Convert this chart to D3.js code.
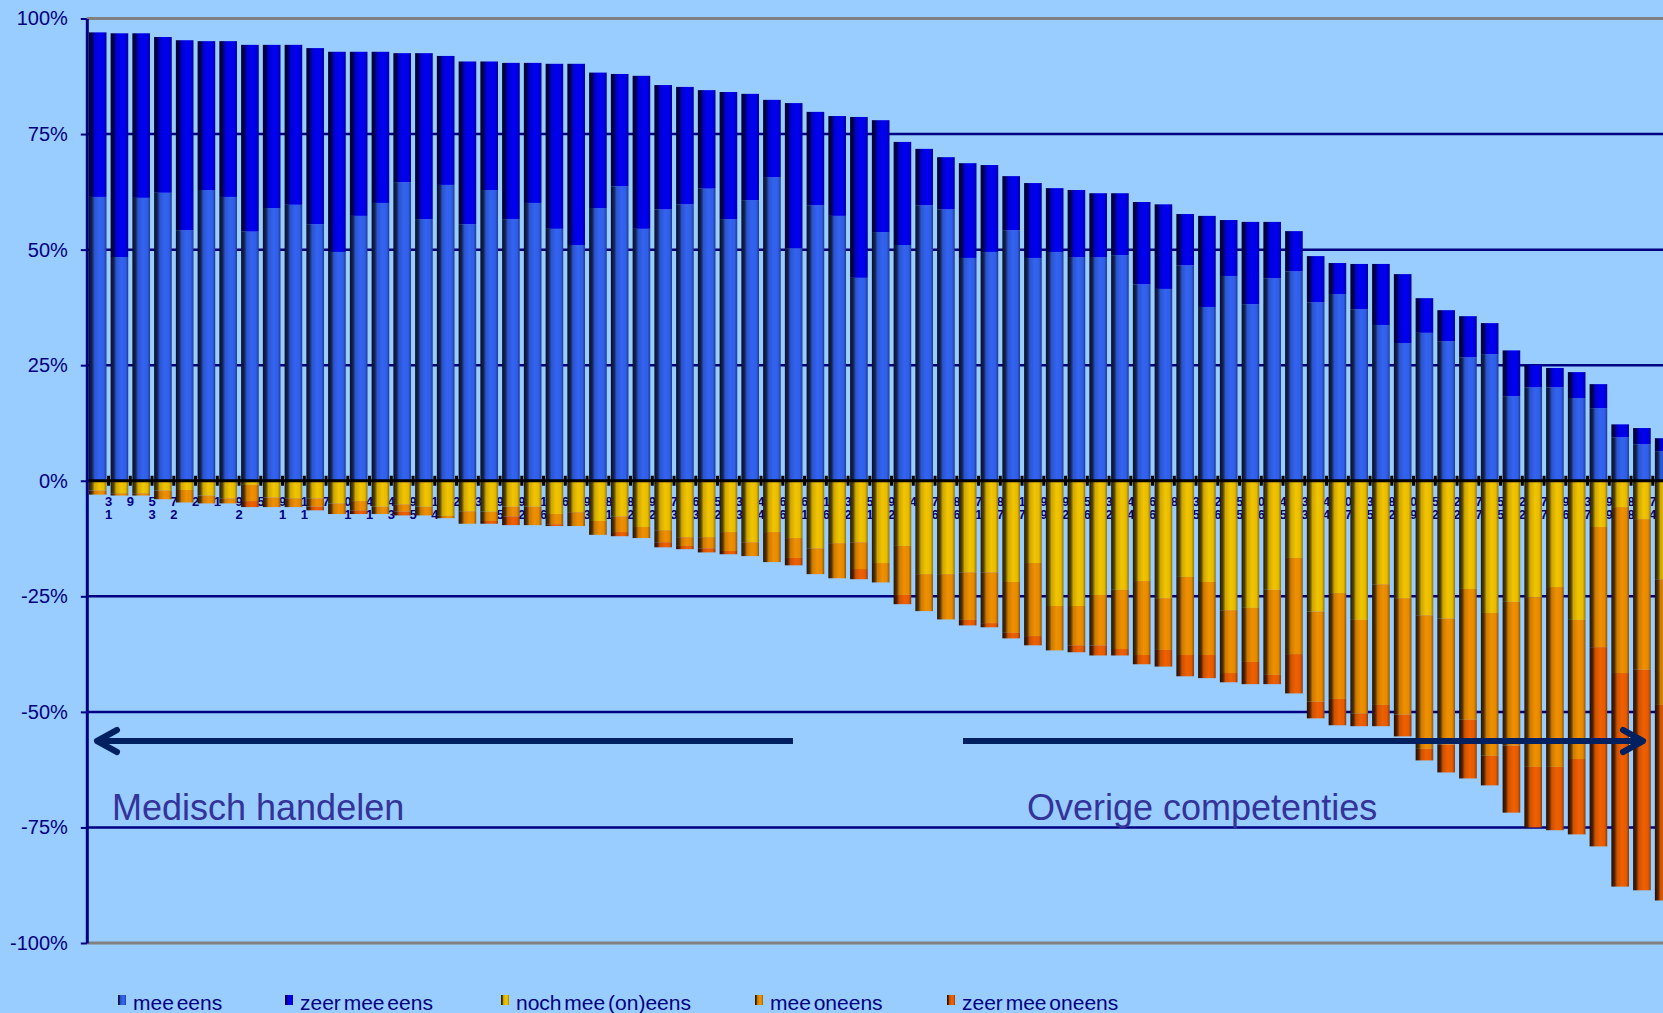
<!DOCTYPE html>
<html lang="nl">
<head>
<meta charset="UTF-8">
<title>Competenties - stellingen</title>
<script src="https://cdnjs.cloudflare.com/ajax/libs/d3/7.8.5/d3.min.js"></script>
<style>
  body { margin: 0; background: #99ccff; overflow: hidden; }
  svg { display: block; font-family: "Liberation Sans", Arial, sans-serif; }
  .axis text { fill: #000080; font-size: 20px; }
  .legend text { fill: #000080; font-size: 21px; word-spacing: -3px; }
  .note { fill: #333399; font-size: 36px; }
  .itemlabel { fill: #000080; font-size: 13px; font-weight: bold; text-anchor: middle; }
</style>
</head>
<body>
<svg id="chart" width="1663" height="1013"></svg>
<script>
// percentages per item (73 items, last one cut off at the right edge)
const meeEens = [61.4, 48.4, 61.2, 62.3, 54.2, 62.9, 61.4, 53.9, 59.0, 59.7,
  55.5, 49.5, 57.3, 60.1, 64.6, 56.6, 64.0, 55.5, 62.9, 56.6,
  60.1, 54.5, 51.0, 59.0, 63.7, 54.5, 58.7, 59.8, 63.2, 56.6,
  60.7, 65.7, 50.3, 59.6, 57.3, 43.9, 53.8, 51.0, 59.6, 58.7,
  48.2, 49.5, 54.2, 48.2, 49.5, 48.4, 48.4, 48.8, 42.5, 41.5,
  46.6, 37.6, 44.3, 38.2, 43.8, 45.3, 38.6, 40.4, 37.1, 33.7,
  29.8, 32.0, 30.2, 26.7, 27.4, 18.3, 20.2, 20.2, 17.9, 15.7,
  9.4, 7.9, 6.4];
const zeerMeeEens = [35.6, 48.4, 35.6, 33.7, 41.1, 32.2, 33.7, 40.4, 35.3, 34.6,
  38.1, 43.3, 35.5, 32.7, 27.9, 35.9, 27.9, 35.2, 27.8, 33.8,
  30.3, 35.7, 39.2, 29.3, 24.3, 33.1, 26.9, 25.4, 21.3, 27.5,
  23.0, 16.7, 31.4, 20.2, 21.6, 34.8, 24.2, 22.3, 12.2, 11.3,
  20.5, 18.8, 11.7, 16.2, 13.8, 14.5, 13.8, 13.4, 17.8, 18.3,
  11.1, 19.7, 12.1, 17.8, 12.2, 8.7, 10.0, 6.7, 9.8, 13.2,
  14.9, 7.5, 6.7, 8.9, 6.7, 9.9, 4.8, 4.2, 5.6, 5.2,
  2.8, 3.5, 2.8];
const nochMeeOneens = [2.1, 2.7, 2.7, 2.1, 2.0, 3.2, 3.8, 0.9, 3.6, 3.8,
  3.8, 4.9, 4.4, 5.6, 5.1, 5.6, 7.6, 6.6, 6.7, 5.6,
  5.6, 7.2, 6.8, 8.7, 7.7, 10.0, 10.7, 12.2, 12.2, 11.1,
  13.3, 11.1, 12.4, 14.6, 13.5, 13.3, 17.8, 14.1, 20.2, 20.2,
  19.8, 19.8, 21.9, 17.8, 27.1, 27.1, 24.7, 23.6, 21.7, 25.4,
  20.8, 21.9, 28.0, 27.5, 23.6, 16.7, 28.3, 24.3, 30.1, 22.4,
  25.4, 29.1, 29.8, 23.4, 28.6, 26.2, 25.2, 23.0, 30.1, 10.0,
  5.7, 8.3, 21.3];
const meeOneens = [0.9, 0.5, 0.5, 1.9, 2.7, 1.7, 1.1, 3.5, 2.1, 1.9,
  1.8, 2.3, 2.0, 1.6, 1.6, 1.9, 0.5, 2.7, 2.0, 2.1,
  4.0, 2.2, 3.0, 3.0, 3.4, 2.4, 2.6, 1.9, 2.4, 4.1,
  3.0, 6.5, 4.3, 5.6, 7.6, 5.8, 4.2, 10.6, 8.0, 9.8,
  10.3, 11.0, 11.0, 15.8, 9.6, 8.5, 10.9, 12.8, 16.0, 11.2,
  16.9, 15.8, 13.6, 11.7, 18.4, 20.8, 19.5, 22.9, 20.3, 26.1,
  25.2, 28.9, 27.3, 28.3, 30.9, 31.1, 36.7, 38.9, 30.1, 26.0,
  35.9, 32.6, 27.2];
const zeerMeeOneens = [0, 0, 0, 0, 0, 0, 0, 1.3, 0, 0,
  0.8, 0, 0.8, 0, 0.8, 0, 0, 0, 0.6, 1.9,
  0, 0.4, 0, 0, 0.9, 0, 1.1, 0.7, 0.9, 0.7,
  0, 0, 1.6, 0, 0, 2.2, 0, 2.0, 0, 0,
  1.2, 0.9, 1.2, 2.0, 0, 1.5, 2.2, 1.4, 2.0, 3.6,
  4.6, 5.0, 2.0, 4.8, 2.0, 8.5, 3.6, 5.7, 2.7, 4.6,
  4.7, 2.5, 6.0, 12.7, 6.4, 14.5, 13.1, 13.7, 16.3, 43.1,
  46.2, 47.7, 42.3];

const yTicks = [100, 75, 50, 25, 0, -25, -50, -75, -100];
const legendLabels = ["mee eens", "zeer mee eens", "noch mee (on)eens", "mee oneens", "zeer mee oneens"];

// item numbers as far as they show between the bars (two rows)
const labelTop = ["3","9","5","7","2","1","9","5","9","1","7","0","4","4","9","1","2","3","9","9",
  "1","6","9","8","8","9","7","6","5","3","4","6","6","1","3","5","9","4","7","8",
  "7","8","1","9","9","5","3","4","6","8","3","2","5","0","4","3","4","0","3","8",
  "0","5","2","7","5","2","7","9","3","9","8","7"];
const labelBottom = ["1","","3","2","","","2","","1","1","","1","1","3","5","4","","","5","2",
  "6","","3","1","2","2","3","3","2","3","4","6","1","6","2","1","2","","6","6",
  "1","7","7","9","2","6","2","4","6","","5","6","5","6","5","3","4","7","5","2",
  "9","2","2","7","5","2","7","6","7","9","8","4"];

const W = 1663, H = 1013;
const keys = ["meeEens", "zeer", "noch", "oneens", "zeerOneens"];
const colors = { meeEens: "#3263f2", zeer: "#0000f2", noch: "#f2c400", oneens: "#f09000", zeerOneens: "#f06000" };

const items = meeEens.map((_, i) => i);
const rows = items.map(i => ({
  meeEens: meeEens[i],
  zeer: zeerMeeEens[i],
  noch: -nochMeeOneens[i],
  oneens: -meeOneens[i],
  zeerOneens: -zeerMeeOneens[i]
}));
const series = d3.stack().keys(keys).offset(d3.stackOffsetDiverging)(rows);

const x0 = 86.8, step = 21.75;
const x = d3.scaleBand().domain(items).range([x0, x0 + items.length * step])
  .paddingInner(0.19).paddingOuter(0.095);
const y = d3.scaleLinear().domain([-100, 100]).range([943, 18.5]);
// category boundary k (between bar k-1 and bar k)
const gapX = k => x.range()[0] + k * x.step();

const svg = d3.select("#chart");
svg.append("rect").attr("width", W).attr("height", H).attr("fill", "#99ccff");

// cylinder-like shading for the bars
const defs = svg.append("defs");
keys.forEach(k => {
  const c = d3.rgb(colors[k]);
  const g = defs.append("linearGradient").attr("id", "grad-" + k)
    .attr("x1", "0%").attr("x2", "100%").attr("y1", "0%").attr("y2", "0%");
  [[0, 0.15], [0.18, 0.35], [0.32, 0.85], [0.6, 1.0], [0.85, 0.95], [1, 0.6]].forEach(([o, f]) => {
    g.append("stop").attr("offset", o * 100 + "%")
      .attr("stop-color", d3.rgb(c.r * f, c.g * f, c.b * f));
  });
});

// gridlines
svg.append("g").selectAll("line")
  .data(yTicks.filter(v => v !== 0))
  .join("line")
  .attr("x1", x0).attr("x2", W)
  .attr("y1", d => y(d)).attr("y2", d => y(d))
  .attr("stroke", d => Math.abs(d) === 100 ? "#808080" : "#000080")
  .attr("stroke-width", d => Math.abs(d) === 100 ? 3 : 2.5);

// item labels sit under the bars
const lab = svg.append("g");
lab.selectAll("text.t").data(labelTop).join("text")
  .attr("class", "itemlabel t")
  .attr("x", (d, i) => gapX(i + 1)).attr("y", 506).text(d => d);
lab.selectAll("text.b").data(labelBottom).join("text")
  .attr("class", "itemlabel b")
  .attr("x", (d, i) => gapX(i + 1)).attr("y", 519).text(d => d);

// bars
svg.append("g").selectAll("g")
  .data(series)
  .join("g")
  .attr("fill", d => "url(#grad-" + d.key + ")")
  .selectAll("rect")
  .data(d => d.map((v, i) => ({ v, i })))
  .join("rect")
  .attr("x", d => x(d.i))
  .attr("width", x.bandwidth())
  .attr("y", d => y(Math.max(d.v[0], d.v[1])))
  .attr("height", d => Math.abs(y(d.v[0]) - y(d.v[1])));

// zero line with category ticks
svg.append("line")
  .attr("x1", x0).attr("x2", W).attr("y1", y(0)).attr("y2", y(0))
  .attr("stroke", "#000").attr("stroke-width", 3);
svg.append("g").selectAll("rect")
  .data(d3.range(1, items.length + 1))
  .join("rect")
  .attr("x", d => gapX(d) - 1.5).attr("width", 3)
  .attr("y", y(0) - 5).attr("height", 10)
  .attr("fill", "#000");

// y axis
const axis = svg.append("g").attr("class", "axis")
  .attr("transform", `translate(${x0},0)`)
  .call(d3.axisLeft(y).tickValues(yTicks).tickSize(6).tickSizeOuter(0).tickPadding(13)
    .tickFormat(d => d + "%"));
axis.select(".domain").attr("stroke", "#000080").attr("stroke-width", 3);
axis.selectAll(".tick line").attr("stroke", "#000080").attr("stroke-width", 2);
axis.attr("font-family", null).attr("font-size", null);

// annotation arrows and group names
const arrowY = 741;
const arr = svg.append("g").attr("stroke", "#002060").attr("fill", "none")
  .attr("stroke-width", 6).attr("stroke-linecap", "round").attr("stroke-linejoin", "round");
arr.append("line").attr("x1", 98).attr("x2", 793).attr("y1", arrowY).attr("y2", arrowY).attr("stroke-linecap", "butt");
arr.append("path").attr("d", `M117,${arrowY - 11} L97,${arrowY} L117,${arrowY + 11}`);
arr.append("line").attr("x1", 963).attr("x2", 1642).attr("y1", arrowY).attr("y2", arrowY).attr("stroke-linecap", "butt");
arr.append("path").attr("d", `M1623,${arrowY - 11} L1643,${arrowY} L1623,${arrowY + 11}`);

svg.append("text").attr("class", "note").attr("x", 112).attr("y", 820).text("Medisch handelen");
svg.append("text").attr("class", "note").attr("x", 1027).attr("y", 820).text("Overige competenties");

// legend
const legendX = [118, 285, 501, 755, 947];
const leg = svg.append("g").attr("class", "legend")
  .selectAll("g").data(keys).join("g")
  .attr("transform", (d, i) => `translate(${legendX[i]},0)`);
leg.append("rect").attr("y", 995).attr("width", 8).attr("height", 10)
  .attr("fill", d => "url(#grad-" + d + ")");
leg.append("text").attr("x", 15).attr("y", 1010).text((d, i) => legendLabels[i]);
</script>
</body>
</html>
